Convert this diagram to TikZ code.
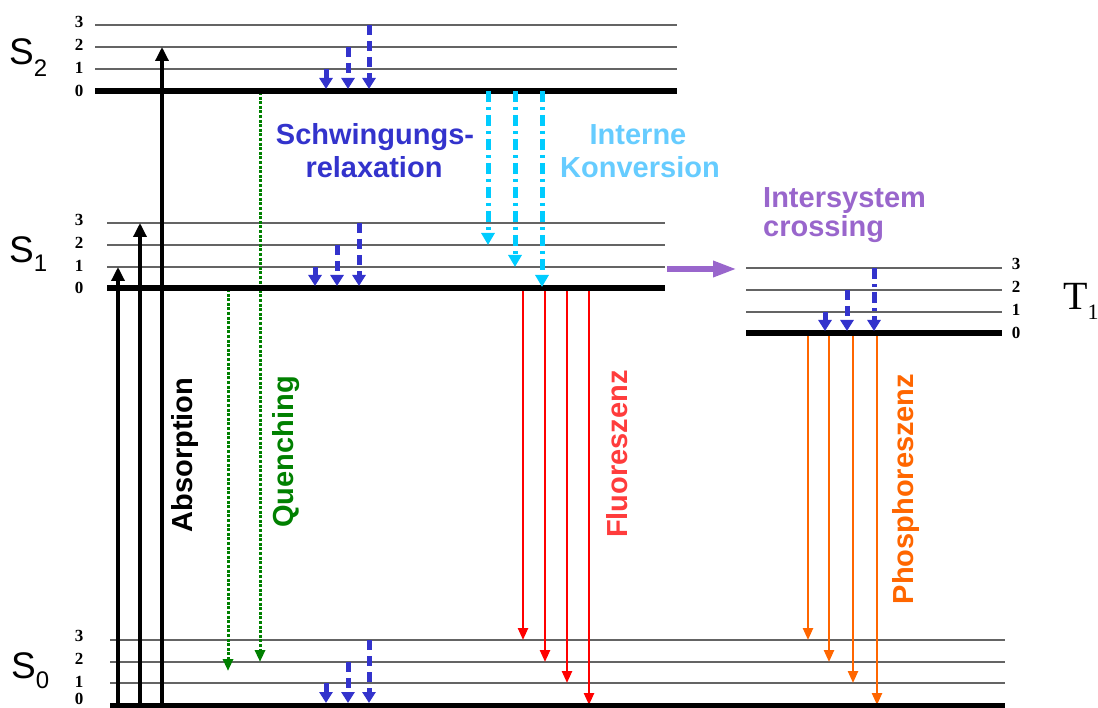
\documentclass[tikz,border=0pt]{standalone}
\usepackage{fontspec}
\setmainfont{Liberation Serif}
\setsansfont{Liberation Sans}
\usetikzlibrary{arrows.meta}
\definecolor{vib}{RGB}{51,51,204}
\definecolor{icarrow}{RGB}{0,204,255}
\definecolor{ictext}{RGB}{102,204,255}
\definecolor{isc}{RGB}{153,102,204}
\definecolor{qgreen}{RGB}{0,128,0}
\definecolor{flred}{RGB}{255,0,0}
\definecolor{fltext}{RGB}{255,60,60}
\definecolor{phor}{RGB}{255,102,0}
\definecolor{lvlgray}{RGB}{100,100,100}
\begin{document}
\begin{tikzpicture}[x=1pt,y=-1pt,
  level/.style={line width=1.4pt, draw=lvlgray},
  ground/.style={line width=5.5pt, draw=black},
  num/.style={font=\bfseries\fontsize{17}{17}\selectfont, inner sep=0pt, anchor=center},
  lbl/.style={font=\sffamily\bfseries\fontsize{29}{29}\selectfont, inner sep=0pt},
  absarrow/.style={line width=3.3pt, -{Triangle[width=13pt,length=14pt]}},
  vrsolid/.style={draw=vib, line width=5pt, -{Triangle[width=13pt,length=11pt]}},
  vrdash/.style={vrsolid, dash pattern=on 10pt off 6pt},
  vrdot/.style={vrsolid, dash pattern=on 11pt off 5pt on 3pt off 5pt},
  icar/.style={draw=icarrow, line width=5pt, dash pattern=on 11pt off 5pt on 3pt off 5pt, -{Triangle[width=13pt,length=12pt]}},
  qar/.style={draw=qgreen, line width=3pt, dash pattern=on 3pt off 1.6pt, -{Triangle[width=10pt,length=12pt]}},
  flar/.style={draw=flred, line width=2.4pt, -{Triangle[width=10pt,length=12pt]}},
  phar/.style={draw=phor, line width=2.4pt, -{Triangle[width=10pt,length=12pt]}},
  iscar/.style={draw=isc, line width=6pt, -{Triangle[width=15pt,length=24pt]}}
]
\useasboundingbox (0,0) rectangle (1098,708);

% ---------- S2 levels
\draw[level] (95,25) -- (677,25);
\draw[level] (95,47) -- (677,47);
\draw[level] (95,69) -- (677,69);
% ---------- S1 levels
\draw[level] (107,223) -- (665,223);
\draw[level] (107,245) -- (665,245);
\draw[level] (107,267) -- (665,267);
% ---------- S0 levels
\draw[level] (110,640) -- (1005,640);
\draw[level] (110,662) -- (1005,662);
\draw[level] (110,683) -- (1005,683);
% ---------- T1 levels
\draw[level] (746,268) -- (1002,268);
\draw[level] (746,290) -- (1002,290);
\draw[level] (746,312) -- (1002,312);

% ---------- absorption
\draw[absarrow] (118,712) -- (118,267);
\draw[absarrow] (140,712) -- (140,223);
\draw[absarrow] (162,712) -- (162,47);

% ---------- quenching
\draw[qar] (260,92) -- (260,662);
\draw[qar] (228,289) -- (228,671);

% ---------- fluorescence
\draw[flar] (523,289) -- (523,640);
\draw[flar] (545,289) -- (545,662);
\draw[flar] (567,289) -- (567,683);
\draw[flar] (589,289) -- (589,705);

% ---------- phosphorescence
\draw[phar] (808,334) -- (808,640);
\draw[phar] (829,334) -- (829,662);
\draw[phar] (853,334) -- (853,683);
\draw[phar] (877,334) -- (877,705);

% ---------- ground lines (thick)
\draw[ground] (95,91) -- (677,91);
\draw[ground] (107,288) -- (665,288);
\draw[ground] (110,706) -- (1005,706);
\draw[ground] (746,333) -- (1002,333);

% ---------- vibrational relaxation
\draw[vrsolid] (326,69) -- (326,89);
\draw[vrdash] (348,47) -- (348,89);
\draw[vrdash] (369,25) -- (369,89);
\draw[vrsolid] (315,267) -- (315,286);
\draw[vrdash] (337,245) -- (337,286);
\draw[vrdash] (359,223) -- (359,286);
\draw[vrsolid] (326,683) -- (326,703);
\draw[vrdash] (348,662) -- (348,703);
\draw[vrdash] (369,640) -- (369,703);
\draw[vrsolid] (825,312) -- (825,331);
\draw[vrdash] (847,290) -- (847,331);
\draw[vrdot] (874,268) -- (874,331);

% ---------- internal conversion
\draw[icar] (488,91) -- (488,245);
\draw[icar] (515,91) -- (515,267);
\draw[icar] (542,91) -- (542,287);

% ---------- intersystem crossing
\draw[iscar] (667,269) -- (737,269);

% ---------- level numbers
\foreach \y/\n in {22/3,45/2,68/1,91/0,220/3,243/2,266/1,288/0,636/3,659/2,682/1,699/0}
  \node[num] at (79,\y) {\n};
\foreach \y/\n in {264/3,287/2,310/1,333/0}
  \node[num] at (1016,\y) {\n};

% ---------- state labels
\node[anchor=base west, inner sep=0pt, font=\sffamily\fontsize{37}{37}\selectfont] (S2) at (9,65) {S\raisebox{-12pt}{\fontsize{24}{24}\selectfont 2}};
\node[anchor=base west, inner sep=0pt, font=\sffamily\fontsize{37}{37}\selectfont] (S1) at (9,263) {S\raisebox{-9pt}{\fontsize{24}{24}\selectfont 1}};
\node[anchor=base west, inner sep=0pt, font=\sffamily\fontsize{37}{37}\selectfont] (S0) at (11,678) {S\raisebox{-10pt}{\fontsize{24}{24}\selectfont 0}};
\node[anchor=base west, inner sep=0pt, font=\fontsize{40}{40}\selectfont] (T1) at (1063,310) {T\raisebox{-10pt}{\fontsize{22}{22}\selectfont 1}};

% ---------- process labels
\node[lbl, text=vib, anchor=base] (vr1) at (375,145) {Schwingungs-};
\node[lbl, text=vib, anchor=base] (vr2) at (374,178) {relaxation};
\node[lbl, text=ictext, anchor=base] (ic1) at (638,145) {Interne};
\node[lbl, text=ictext, anchor=base] (ic2) at (640,178) {Konversion};
\node[lbl, text=isc, anchor=base west] (isc1) at (763,208) {Intersystem};
\node[lbl, text=isc, anchor=base west] (isc2) at (763,237) {crossing};
\node[lbl, text=black, anchor=base, rotate=90] (abs) at (192,455) {Absorption};
\node[lbl, text=qgreen, anchor=base, rotate=90] (que) at (293,452) {Quenching};
\node[lbl, text=fltext, anchor=base, rotate=90] (flu) at (627,454) {Fluoreszenz};
\node[lbl, text=phor, anchor=base, rotate=90] (pho) at (913,489) {Phosphoreszenz};
\end{tikzpicture}
\end{document}
